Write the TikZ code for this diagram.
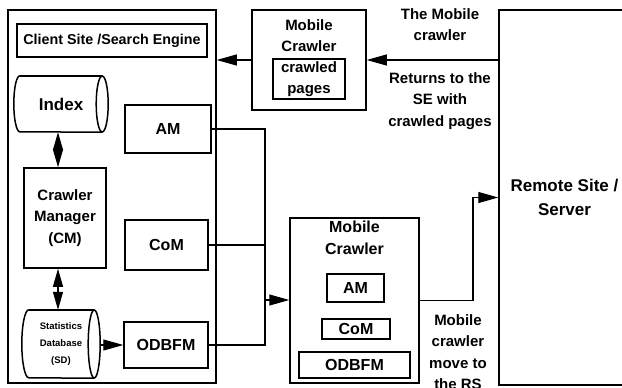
\documentclass[tikz,border=0pt]{standalone}
\usepackage{fontspec}
\setmainfont{Liberation Sans}
\usetikzlibrary{arrows.meta, calc}

\begin{document}
\begin{tikzpicture}[x=1pt, y=-1pt,
		every node/.style={font=\bfseries\fontsize{15}{21.5}\selectfont, align=center},
		box/.style={draw, line width=1.5pt, inner sep=0pt},
		big/.style={font=\bfseries\fontsize{16}{21.5}\selectfont},
		rim/.style={line width=1.5pt},
		wire/.style={line width=1.2pt},
		arr/.style={line width=1.2pt, -{Triangle[length=20pt, width=11pt]}},
		dbl/.style={line width=1.2pt, {Triangle[length=18pt, width=10pt]}-{Triangle[length=18pt, width=10pt]}}]
		\useasboundingbox (0,0) rectangle (622,388);
		% client site / search engine
		\node[box, minimum width=208pt, minimum height=373pt] (client) at (112,196.5) {};
		\node[box, minimum width=190pt, minimum height=33pt, font=\bfseries\fontsize{14.3}{17}\selectfont] (title) at (112,40.5) {Client Site /Search Engine};
		\node[inner sep=0pt, minimum width=94pt, minimum height=56pt, font=\bfseries\fontsize{17}{20}\selectfont] (index) at (61,104) {Index};
		\draw[rim] ([xshift=6pt]index.north west) arc[start angle=90, end angle=270, x radius=6pt, y radius=28pt] -- ([xshift=-6pt]index.south east);
		\draw[rim] ([xshift=6pt]index.north west) -- ([xshift=-6pt]index.north east);
		\draw[rim] ([xshift=-6pt]index.east) ellipse[x radius=6pt, y radius=28pt];
		\node[box, minimum width=82pt, minimum height=100pt] (cm) at (65,218) {Crawler\\Manager\\(CM)};
		\node[inner sep=0pt, minimum width=78pt, minimum height=68pt, font=\bfseries\fontsize{9.5}{17}\selectfont] (sd) at (61,344) {Statistics\\Database\\(SD)};
		\draw[rim] ([xshift=7pt]sd.north west) arc[start angle=90, end angle=270, x radius=7pt, y radius=34pt] -- ([xshift=-6pt]sd.south east);
		\draw[rim] ([xshift=7pt]sd.north west) -- ([xshift=-6pt]sd.north east);
		\draw[rim] ([xshift=-6pt]sd.east) ellipse[x radius=6pt, y radius=34pt];
		\node[box, big, minimum width=86pt, minimum height=48pt] (am) at (168,129) {AM};
		\node[box, big, minimum width=83pt, minimum height=50pt] (com) at (166.5,245) {CoM};
		\node[box, big, minimum width=84pt, minimum height=46pt] (odbfm) at (166,345) {ODBFM};
		% mobile crawler coming back
		\node[box, minimum width=114pt, minimum height=100pt] (mctop) at (309,60) {};
		\node (mctoptxt) at (309,35.5) {Mobile\\Crawler};
		\node[box, minimum width=72pt, minimum height=40pt] (pages) at (309,79) {crawled\\pages};
		% mobile crawler going out
		\node[box, minimum width=129pt, minimum height=165pt] (mcbot) at (354.5,300.5) {};
		\node[big] (mcbottxt) at (354.5,238) {Mobile\\Crawler};
		\node[box, big, minimum width=57pt, minimum height=28pt] (am2) at (355.5,288) {AM};
		\node[box, big, minimum width=68pt, minimum height=20pt] (com2) at (356,329) {CoM};
		\node[box, big, minimum width=111pt, minimum height=26pt] (odbfm2) at (354.5,365) {ODBFM};
		% remote site
		\node[box, minimum width=131pt, minimum height=375pt, font=\bfseries\fontsize{17}{24}\selectfont] (remote) at (564.5,197.5) {Remote Site /\\Server};
		\node (back) at (440,24.5) {The Mobile\\crawler};
		\node (returns) at (440,101) {Returns to the\\SE with\\crawled pages};
		\node (move) at (458,352) {Mobile\\crawler\\move to\\the RS};
		% connectors
		\coordinate (bus) at (265,300);
		\coordinate (turn) at (473,0);
		\draw[arr] (remote.west |- mctop.east) -- (mctop.east);
		\draw[arr] (mctop.west) -- (mctop.west -| client.east);
		\draw[dbl] ([xshift=-3pt]index.south) -- ([xshift=-3pt]index.south |- cm.north);
		\draw[dbl] ([xshift=-3pt]sd.north |- cm.south) -- ([xshift=-3pt]sd.north);
		\draw[arr] (sd.east |- odbfm.west) -- (odbfm.west);
		\draw[wire] (am.east) -| (odbfm.east -| bus) -- (odbfm.east);
		\draw[wire] (com.east) -- (com.east -| bus);
		\draw[arr] (bus) -- (bus -| mcbot.west);
		\draw[arr] (mcbot.east) -| (turn |- remote.west) -- (remote.west);
	\end{tikzpicture}
\end{document}
